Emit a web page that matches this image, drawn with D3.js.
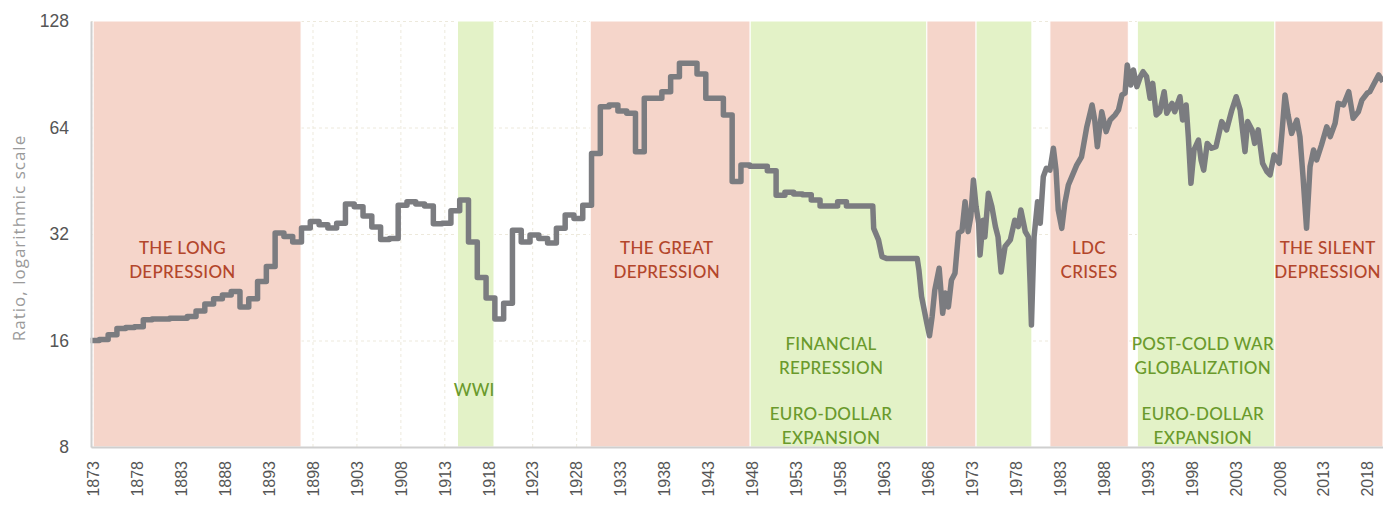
<!DOCTYPE html>
<html>
<head>
<meta charset="utf-8">
<script src="https://cdn.jsdelivr.net/npm/d3@7"></script>
<style>
  body { margin: 0; background: #fff; }
  svg { font-family: Lato, 'Open Sans', sans-serif; }
  .grid line { stroke: #ede9dc; stroke-dasharray: 3,3; }
  .grid path { display: none; }
  .axis path { stroke: #cfcfcf; stroke-width: 2; }
  .axis line { display: none; }
  .axis text { fill: #555; }
  .axis.x text { font-size: 16px; }
  .axis.y text { font-size: 17.5px; }
  .y-title { fill: #9a9a9a; font-size: 17px; font-family: 'Open Sans', sans-serif; letter-spacing: 1px; }
  .band-label { font-size: 17px; font-weight: 500; letter-spacing: 0.3px; }
</style>
</head>
<body>
<div id="chart"></div>
<script>
// ANNUAL SERIES 1873-1961 (drawn as steps)
var annualStart = 1873;
var annualValues = [
  16.0, 16.1, 16.6, 17.3, 17.4, 17.5, 18.3, 18.4, 18.4, 18.5,   // 1873-1882
  18.5, 18.7, 19.4, 20.3, 21.0, 21.5, 22.0, 19.9, 21.0, 23.5,   // 1883-1892
  25.9, 32.2, 31.5, 30.4, 33.3, 34.7, 34.0, 33.3, 34.3, 38.9,   // 1893-1902
  38.2, 36.0, 33.5, 30.9, 31.1, 38.6, 39.5, 38.9, 38.4, 34.2,   // 1903-1912
  34.3, 37.2, 39.9, 30.4, 24.1, 21.1, 18.4, 20.4, 32.8, 30.4,   // 1913-1922
  31.8, 31.1, 30.2, 33.2, 36.2, 35.4, 38.6, 54.0, 73.3, 74.1,   // 1923-1932
  71.3, 70.2, 54.7, 77.4, 77.4, 80.8, 89.1, 97.2, 97.2, 90.7,   // 1933-1942
  77.4, 77.4, 69.4, 45.0, 50.1, 49.7, 49.7, 48.3, 41.2, 42.0,   // 1943-1952
  41.5, 41.3, 39.9, 38.4, 38.4, 39.5, 38.4, 38.4, 38.4          // 1953-1961
];

// HIGHER FREQUENCY SERIES FROM LATE 1961
var recentDates = [
  1961.75, 1961.85, 1962.4, 1962.8, 1963.3, 1966.8, 1967.0, 1967.3, 1967.9, 1968.2,
  1968.5, 1968.8, 1969.3, 1969.7, 1970.0, 1970.35, 1970.7, 1971.1, 1971.5, 1971.9,
  1972.25, 1972.6, 1972.9, 1973.2, 1973.5, 1973.8, 1973.95, 1974.3, 1974.5, 1974.9,
  1975.3, 1975.7, 1976.0, 1976.35, 1976.8, 1977.4, 1977.9, 1978.3, 1978.6, 1979.1,
  1979.45, 1979.65, 1979.8, 1980.1, 1980.5, 1980.8, 1981.15, 1981.5, 1981.9, 1982.3,
  1982.6, 1982.85, 1983.25, 1983.6, 1984.0, 1984.4, 1984.95, 1985.5, 1986.1, 1986.7,
  1987.0, 1987.3, 1987.8, 1988.3, 1988.75, 1989.3, 1989.7, 1990.1, 1990.45, 1990.7,
  1991.1, 1991.4, 1991.8, 1992.2, 1992.5, 1992.9, 1993.3, 1993.6, 1994.0, 1994.4,
  1994.9, 1995.2, 1995.8, 1996.1, 1996.7, 1997.0, 1997.4, 1997.65, 1997.95, 1998.3,
  1998.8, 1999.1, 1999.4, 1999.8, 2000.3, 2000.8, 2001.45, 2002.0, 2002.6, 2003.1,
  2003.55, 2004.1, 2004.4, 2004.9, 2005.2, 2005.6, 2006.1, 2006.6, 2006.95, 2007.4,
  2008.0, 2008.3, 2008.65, 2009.0, 2009.4, 2010.0, 2010.35, 2010.7, 2011.1, 2011.5,
  2011.9, 2012.25, 2012.8, 2013.4, 2013.8, 2014.35, 2014.7, 2015.3, 2015.9, 2016.4,
  2017.0, 2017.4, 2018.0, 2018.3, 2018.7, 2019.3, 2019.8
];
var recentValues = [
  38.4, 33.2, 30.8, 27.6, 27.3, 27.3, 25.3, 21.3, 17.9, 16.5,
  18.7, 22.2, 25.6, 19.1, 21.8, 19.9, 23.7, 24.8, 32.2, 32.7,
  39.5, 32.5, 35.8, 45.5, 38.2, 34.3, 27.9, 35.0, 31.4, 41.7,
  38.2, 33.6, 31.4, 25.0, 29.5, 30.8, 35.0, 33.6, 37.4, 32.5,
  31.4, 23.2, 17.7, 31.4, 39.5, 34.3, 46.5, 49.1, 48.5, 55.9,
  48.5, 37.4, 33.2, 39.1, 44.0, 46.5, 50.1, 52.9, 64.3, 74.1,
  67.2, 56.5, 70.9, 62.3, 67.2, 69.4, 71.7, 79.1, 80.0, 96.1,
  84.4, 93.1, 83.5, 89.1, 92.0, 89.1, 77.4, 85.3, 69.4, 70.9,
  80.8, 70.2, 74.9, 70.9, 78.2, 67.2, 74.1, 60.3, 44.5, 55.3,
  59.0, 51.8, 48.5, 57.7, 55.9, 56.5, 66.5, 63.0, 71.7, 78.2,
  71.7, 54.7, 66.5, 63.0, 57.7, 63.0, 50.7, 48.0, 47.0, 53.5,
  50.7, 61.6, 79.1, 69.4, 61.6, 67.2, 60.3, 46.5, 33.2, 49.6,
  55.3, 51.8, 57.1, 64.3, 60.3, 65.8, 74.9, 74.1, 80.8, 68.0,
  70.9, 76.5, 80.0, 80.8, 84.4, 90.1, 86.2
];

// SHADED PERIODS
var bandStarts = [1873.05, 1914.5, 1929.6, 1947.8, 1967.9, 1973.5, 1981.9, 1991.85, 2007.5];
var bandEnds   = [1896.7, 1918.65, 1947.8, 1967.9, 1973.5, 1979.85, 1990.82, 2007.5, 2019.8];
var bandKinds  = ['red', 'green', 'red', 'green', 'red', 'green', 'red', 'green', 'red'];

// PERIOD LABELS
var labelTexts = [
  ['THE LONG', 'DEPRESSION'],
  ['WWI'],
  ['THE GREAT', 'DEPRESSION'],
  ['FINANCIAL', 'REPRESSION'],
  ['EURO-DOLLAR', 'EXPANSION'],
  ['LDC', 'CRISES'],
  ['POST-COLD WAR', 'GLOBALIZATION'],
  ['EURO-DOLLAR', 'EXPANSION'],
  ['THE SILENT', 'DEPRESSION']
];
var labelKinds = ['red', 'green', 'red', 'green', 'green', 'red', 'green', 'green', 'red'];

// TICKS
var xTickYears = [1873, 1878, 1883, 1888, 1893, 1898, 1903, 1908, 1913, 1918, 1923, 1928,
  1933, 1938, 1943, 1948, 1953, 1958, 1963, 1968, 1973, 1978, 1983, 1988, 1993, 1998,
  2003, 2008, 2013, 2018];
var yTickValues = [8, 16, 32, 64, 128];

var w = 1383,
    h = 506;
var margin = { top: 21, right: 0, bottom: 59, left: 91 };

var bandFill = { red: '#f5d5ca', green: '#e3f2c7' };
var textFill = { red: '#b3462b', green: '#6a9a2c' };

// label placement (centre year, first line y in px)
var labelLayout = [
  [1883.2, 248], [1916.4, 390], [1938.3, 248], [1957.0, 344], [1957.0, 414],
  [1986.35, 248], [1999.3, 344], [1999.3, 414], [2013.5, 248]
];

function translation(x, y) {
  return 'translate(' + x + ',' + y + ')';
}

var svg = d3.select('#chart').append('svg')
  .attr('width', w)
  .attr('height', h);

var x = d3.scaleLinear()
  .domain([1872.8, 2019.8])
  .range([margin.left, w - margin.right]);

var y = d3.scaleLog()
  .base(2)
  .domain([8, 128])
  .range([h - margin.bottom, margin.top]);

var plotH = y(8) - y(128);

// GRID
svg.append('g')
  .attr('class', 'grid')
  .attr('transform', translation(0, y(8)))
  .call(d3.axisBottom(x).tickValues(xTickYears).tickSize(-plotH).tickFormat(''));

svg.append('g')
  .attr('class', 'grid')
  .attr('transform', translation(margin.left, 0))
  .call(d3.axisLeft(y).tickValues(yTickValues).tickSize(-(x.range()[1] - margin.left)).tickFormat(''));

// BANDS
svg.append('g').selectAll('rect')
  .data(bandStarts)
  .enter().append('rect')
    .attr('x', function(d) { return x(d); })
    .attr('y', y(128))
    .attr('width', function(d, i) { return x(bandEnds[i]) - x(d); })
    .attr('height', plotH)
    .attr('fill', function(d, i) { return bandFill[bandKinds[i]]; })
    .attr('stroke', '#fff')
    .attr('stroke-width', 1);

// LABELS
var labels = svg.append('g').selectAll('text')
  .data(labelTexts)
  .enter().append('text')
    .attr('class', 'band-label')
    .attr('text-anchor', 'middle')
    .attr('fill', function(d, i) { return textFill[labelKinds[i]]; })
    .attr('transform', function(d, i) { return translation(x(labelLayout[i][0]), labelLayout[i][1]); });

labels.selectAll('tspan')
  .data(function(d) { return d; })
  .enter().append('tspan')
    .attr('x', 0)
    .attr('y', function(d, j) { return j * 24; })
    .attr('dy', '0.36em')
    .text(function(d) { return d; });

// LINE
var linePoints = [];
annualValues.forEach(function(v, i) {
  var yr = annualStart + i;
  linePoints.push([yr - 0.25, v], [yr + 0.75, v]);
});
recentDates.forEach(function(d, i) {
  linePoints.push([d, recentValues[i]]);
});

var line = d3.line()
  .x(function(d) { return x(d[0]); })
  .y(function(d) { return y(d[1]); });

svg.append('path')
  .datum(linePoints)
  .attr('d', line)
  .attr('fill', 'none')
  .attr('stroke', '#7b7c80')
  .attr('stroke-width', 5.5)
  .attr('stroke-linejoin', 'round')
  .attr('stroke-linecap', 'butt');

// AXES
var xAxis = svg.append('g')
  .attr('class', 'axis x')
  .attr('transform', translation(0, y(8)))
  .call(d3.axisBottom(x).tickValues(xTickYears).tickSize(0).tickSizeOuter(0).tickFormat(d3.format('d')));

xAxis.selectAll('text')
  .attr('transform', 'rotate(-90)')
  .attr('x', -14)
  .attr('y', 0)
  .attr('dy', '0.36em')
  .style('text-anchor', 'end');

svg.append('g')
  .attr('class', 'axis y')
  .attr('transform', translation(margin.left, 0))
  .call(d3.axisLeft(y).tickValues(yTickValues).tickSize(0).tickSizeOuter(0).tickPadding(22).tickFormat(d3.format('d')));

svg.append('text')
  .attr('class', 'y-title')
  .attr('text-anchor', 'middle')
  .attr('transform', translation(25, 238) + ' rotate(-90)')
  .text('Ratio, logarithmic scale');
</script>
</body>
</html>
